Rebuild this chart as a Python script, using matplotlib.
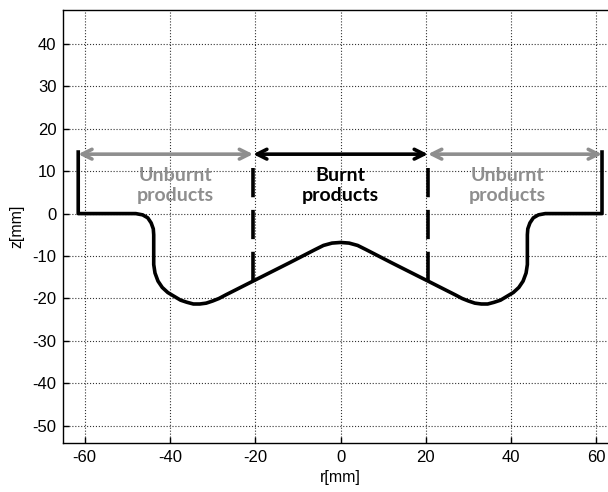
import numpy as np
import matplotlib
matplotlib.use('Agg')
import matplotlib.pyplot as plt

# профиль поршня (r, z) в мм
r_prof = [-61.5, -61.5, -48.0, -46.4, -45.2, -44.4, -43.9, -43.8, -43.8, -43.5, -42.8,
          -41.8, -40.5, -39.0, -37.5, -36.0, -34.5, -33.0, -31.5, -30.0, -28.5, -27.0,
          -20.5, -12.0, -6.0, -4.0, -2.0, 0.0, 2.0, 4.0, 6.0, 12.0, 20.5,
          27.0, 28.5, 30.0, 31.5, 33.0, 34.5, 36.0, 37.5, 39.0, 40.5, 41.8,
          42.8, 43.5, 43.8, 43.8, 43.9, 44.4, 45.2, 46.4, 48.0, 61.3, 61.3]
z_prof = [14.5, 0.0, 0.0, -0.3, -1.0, -2.2, -3.6, -5.0, -12.0, -14.0, -15.9,
          -17.4, -18.6, -19.5, -20.4, -20.9, -21.3, -21.3, -21.1, -20.6, -20.0, -19.2,
          -15.9, -11.6, -8.5, -7.5, -6.95, -6.8, -6.95, -7.5, -8.5, -11.6, -15.9,
          -19.2, -20.0, -20.6, -21.1, -21.3, -21.3, -20.9, -20.4, -19.5, -18.6, -17.4,
          -15.9, -14.0, -12.0, -5.0, -3.6, -2.2, -1.0, -0.3, 0.0, 0.0, 14.5]

# границы зон (фронт пламени)
front_r = [-20.5, 20.5]
front_z = [10.8, -15.8]
arrow_z = 14.0
zones = [(-61.5, -20.5), (-20.5, 20.5), (20.5, 61.3)]
zone_text = ['Unburnt\nproducts', 'Burnt\nproducts', 'Unburnt\nproducts']
zone_x = [-38.8, 0.0, 39.2]
gray = '#8e8e8e'
zone_col = [gray, 'black', gray]

plt.rcParams['font.family'] = ['Liberation Sans', 'DejaVu Sans']
plt.rcParams['axes.unicode_minus'] = False

fig = plt.figure(figsize=(6.08, 4.92), dpi=100)
ax = fig.add_axes([0.1041, 0.100, 0.912, 0.880])

ax.plot(r_prof, z_prof, 'k-', lw=2.6, solid_joinstyle='round', zorder=3)

for xr in front_r:
    ax.plot([xr, xr], front_z, color='k', lw=2.6, dashes=(8.1, 3.5),
            dash_capstyle='butt', zorder=3)

for (a, b), col in zip(zones, zone_col):
    ax.annotate('', xy=(a, arrow_z), xytext=(b, arrow_z),
                arrowprops=dict(arrowstyle='<->,head_length=0.7,head_width=0.35',
                                color=col, lw=2.6, shrinkA=0, shrinkB=0),
                zorder=4)

for xt, txt, col in zip(zone_x, zone_text, zone_col):
    ax.text(xt, 6.6, txt, ha='center', va='center', color=col, fontsize=14,
            fontweight='bold', family=['Lato', 'DejaVu Sans'], linespacing=1.25,
            zorder=5)

ax.set_xlim(-65, 65)
ax.set_ylim(-54, 48)
ax.set_xticks(np.arange(-60, 61, 20))
ax.set_yticks(np.arange(-50, 41, 10))
ax.tick_params(direction='in', length=4, width=1, labelsize=12, pad=5)
ax.grid(True, ls=':', color='0.2', lw=0.8)
ax.set_axisbelow(True)
for s in ax.spines.values():
    s.set_linewidth(1.0)

ax.set_xlabel('r[mm]', fontsize=11.5, labelpad=4)
ax.set_ylabel('z[mm]', fontsize=11.5, labelpad=6)

plt.savefig('out.png', dpi=100)
